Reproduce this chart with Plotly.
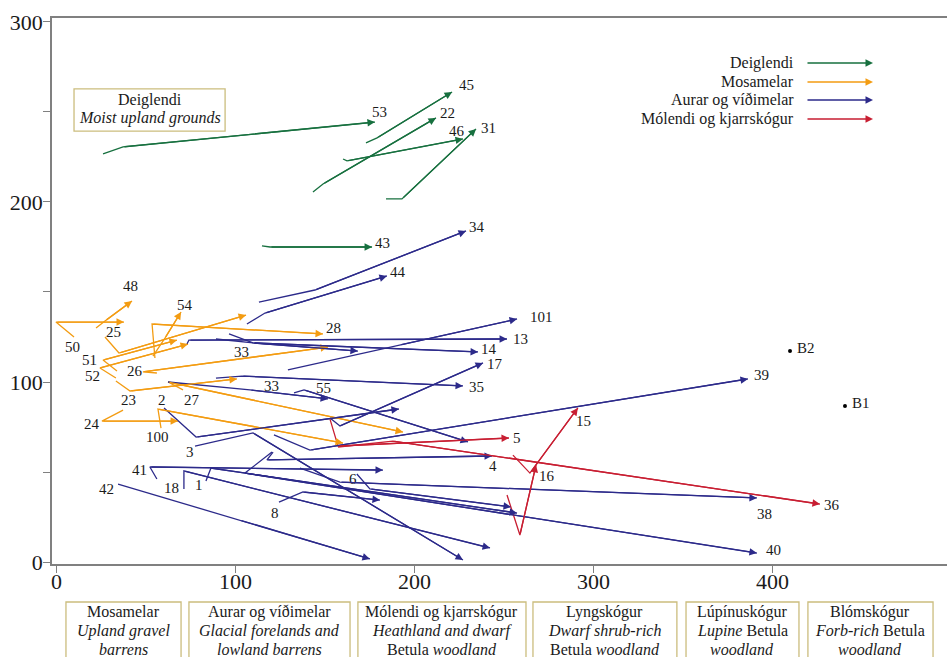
import plotly.graph_objects as go

# Site trajectories in ordination space (axis 1 = x, axis 2 = y), grouped by habitat.
# Each path runs first survey -> second survey -> third survey (arrow at the last point).

deig_ids = ["53", "45", "22", "46", "31", "43"]
deig_x = [[26.0, 37.2, 177.9], [172.9, 179.1, 221.0], [143.3, 148.9, 212.0],
          [160.1, 162.3, 227.1], [184.1, 193.0, 234.4], [114.8, 119.3, 176.3]]
deig_y = [[226.7, 230.6, 244.4], [232.8, 235.6, 261.1], [205.6, 210.0, 246.7],
          [223.9, 222.8, 235.0], [201.7, 201.7, 240.6], [175.6, 175.0, 175.0]]
deig_lab = [(180.7, 250.0), (228.8, 265.0), (218.7, 249.4), (223.7, 239.4),
            (241.1, 241.1), (182.4, 177.2)]

mosa_ids = ["48", "54", "25", "50", "51", "52", "26", "28", "23", "24", "27", "100"]
mosa_x = [[22.1, 27.1, 42.2], [53.9, 60.6, 69.6], [27.1, 34.9, 105.9],
          [9.8, -0.3, 37.7], [33.8, 26.0, 67.3], [33.2, 24.3, 73.5],
          [56.1, 48.3, 151.7], [55.0, 53.4, 148.9], [33.2, 41.1, 100.8],
          [37.2, 25.4, 67.9], [70.7, 62.3, 193.6], [58.4, 56.7, 160.1]]
mosa_y = [[130.0, 133.9, 145.0], [114.4, 124.4, 138.9], [125.0, 116.1, 137.2],
          [125.0, 133.3, 133.3], [106.1, 112.2, 123.3], [102.2, 107.8, 121.1],
          [105.0, 105.6, 119.4], [113.3, 132.2, 126.7], [100.6, 95.0, 101.7],
          [84.4, 78.3, 78.3], [95.6, 100.0, 72.2], [74.4, 85.0, 66.1]]
mosa_lab = [(41.1, 153.3), (71.8, 142.8), (31.6, 127.8), (8.7, 119.4),
            (18.7, 112.2), (20.4, 103.3), (43.9, 106.1), (155.0, 130.0),
            (40.0, 90.0), (19.8, 76.7), (75.7, 90.0), (56.7, 69.4)]

aura_ids = ["34", "44", "13", "14", "33", "101", "17", "35", "55", "33", "39",
            "2", "3", "41", "42", "18", "1", "8", "6", "4", "38", "40"]
aura_x = [[113.1, 144.4, 228.8], [106.4, 116.5, 184.6], [72.9, 74.0, 251.7],
          [96.4, 109.8, 235.5], [89.1, 109.8, 168.4], [129.3, 191.9, 257.3],
          [152.8, 158.4, 238.3], [89.1, 103.6, 227.1], [132.7, 138.3, 229.9],
          [62.3, 108.1, 151.7], [121.5, 141.6, 386.3], [60.1, 78.0, 191.3],
          [77.4, 109.8, 227.1], [56.1, 52.2, 182.4], [34.4, 102.5, 175.1],
          [71.2, 71.2, 242.2], [83.5, 86.3, 257.3], [124.3, 137.7, 180.7],
          [167.8, 175.1, 253.9], [121.0, 117.6, 243.3], [136.0, 158.4, 391.3],
          [120.4, 105.3, 391.3]]
aura_y = [[144.4, 151.1, 183.9], [132.2, 138.3, 158.9], [121.1, 123.3, 123.9],
          [126.7, 121.7, 116.7], [123.9, 121.7, 117.2], [106.7, 120.6, 135.0],
          [80.0, 75.6, 110.6], [102.2, 103.3, 97.8], [93.9, 95.6, 66.7],
          [100.0, 95.6, 90.6], [70.6, 62.2, 101.7], [85.6, 69.4, 85.0],
          [64.4, 71.7, 1.1], [46.1, 52.8, 51.1], [43.3, 23.3, 1.7],
          [40.6, 50.6, 7.8], [45.0, 52.2, 27.2], [33.3, 38.9, 34.4],
          [48.9, 40.6, 30.6], [61.1, 56.7, 58.9], [52.2, 44.4, 35.6],
          [61.1, 49.4, 5.0]]
aura_lab = [(234.9, 186.1), (190.8, 161.1), (259.5, 123.9), (241.6, 118.3),
            (103.6, 116.7), (271.2, 136.1), (245.0, 110.0), (234.9, 97.2),
            (148.9, 96.7), (120.4, 97.8), (394.1, 103.9), (58.9, 90.0),
            (74.6, 61.1), (46.6, 51.1), (28.2, 40.6), (64.0, 41.1),
            (79.6, 42.8), (122.1, 27.2), (165.6, 46.1), (243.9, 53.3),
            (395.3, 26.7), (400.3, 6.7)]

mole_ids = ["5", "36", "15", "16"]
mole_x = [[152.8, 157.3, 252.8], [157.3, 188.0, 426.5], [255.0, 264.5, 291.3],
          [251.7, 258.9, 267.9]]
mole_y = [[79.4, 64.4, 68.9], [63.9, 67.2, 32.2], [59.4, 49.4, 85.6],
          [37.2, 15.0, 53.9]]
mole_lab = [(257.3, 68.9), (433.3, 31.7), (294.7, 78.3), (274.0, 47.8)]

ref_ids = ["B2", "B1"]
ref_x = [409.8, 440.5]
ref_y = [117.2, 86.7]

groups = [
    ("Deiglendi", "#17703f", deig_ids, deig_x, deig_y, deig_lab),
    ("Mosamelar", "#f39c12", mosa_ids, mosa_x, mosa_y, mosa_lab),
    ("Aurar og víðimelar", "#2c2a8a", aura_ids, aura_x, aura_y, aura_lab),
    ("Mólendi og kjarrskógur", "#c81e32", mole_ids, mole_x, mole_y, mole_lab),
]

habitat_names = ["Mosamelar", "Aurar og víðimelar", "Mólendi og kjarrskógur",
                 "Lyngskógur", "Lúpínuskógur", "Blómskógur"]
habitat_line2 = ["<i>Upland gravel</i>", "<i>Glacial forelands and</i>",
                 "<i>Heathland and dwarf</i>", "<i>Dwarf shrub-rich</i>",
                 "<i>Lupine</i> Betula", "<i>Forb-rich</i> Betula"]
habitat_line3 = ["<i>barrens</i>", "<i>lowland barrens</i>", "Betula <i>woodland</i>",
                 "Betula <i>woodland</i>", "<i>woodland</i>", "<i>woodland</i>"]
habitat_box_x = [(5.3, 69.6), (74.0, 164.0), (168.4, 262.3), (266.2, 346.6),
                 (351.7, 414.8), (419.8, 489.7)]

SERIF = "Liberation Serif"
INK = "#1a1a1a"
BOX = "#cbbd7e"

fig = go.Figure()
annotations = []
shapes = []

for name, color, ids, xs, ys, labs in groups:
    for sid, px, py, (lx, ly) in zip(ids, xs, ys, labs):
        fig.add_trace(go.Scatter(x=px, y=py, mode="lines",
                                 line=dict(color=color, width=1.3),
                                 hoverinfo="skip", showlegend=False))
        annotations.append(dict(x=px[-1], y=py[-1], ax=px[-2], ay=py[-2],
                                xref="x", yref="y", axref="x", ayref="y",
                                text="", showarrow=True, arrowhead=2,
                                arrowsize=1.15, arrowwidth=1.3, arrowcolor=color,
                                standoff=0, startstandoff=0))
        annotations.append(dict(x=lx, y=ly, xref="x", yref="y", text=sid,
                                showarrow=False, xanchor="center", yanchor="middle",
                                font=dict(family=SERIF, size=15, color=INK)))

# reference plots (dots with labels set off to the right)
fig.add_trace(go.Scatter(x=ref_x, y=ref_y, mode="markers",
                         marker=dict(color="black", size=4),
                         hoverinfo="skip", showlegend=False))
for rid, rx, ry in zip(ref_ids, ref_x, ref_y):
    annotations.append(dict(x=rx, y=ry, xref="x", yref="y", text=rid,
                            showarrow=False, xanchor="left", yanchor="middle",
                            xshift=5, yshift=3,
                            font=dict(family=SERIF, size=15, color=INK)))

# legend drawn with arrows
leg_y = [0.9176, 0.8828, 0.8498, 0.8150]
for (name, color, *_), yy in zip(groups, leg_y):
    annotations.append(dict(x=0.8313, y=yy, xref="paper", yref="paper", text=name,
                            showarrow=False, xanchor="right", yanchor="middle",
                            font=dict(family=SERIF, size=16, color=INK)))
    annotations.append(dict(x=0.9173, y=yy, xref="paper", yref="paper", text="",
                            showarrow=True, ax=-67, ay=0, arrowhead=2,
                            arrowsize=1.15, arrowwidth=1.3, arrowcolor=color,
                            standoff=0))

# "Deiglendi" caption box
shapes.append(dict(type="rect", xref="x", yref="y", x0=9.8, x1=94.2, y0=239.4,
                   y1=262.8, line=dict(color=BOX, width=1.3), fillcolor="white"))
annotations.append(dict(x=52.0, y=256.7, xref="x", yref="y", text="Deiglendi",
                        showarrow=False, font=dict(family=SERIF, size=16, color=INK)))
annotations.append(dict(x=52.0, y=246.4, xref="x", yref="y",
                        text="<i>Moist upland grounds</i>", showarrow=False,
                        font=dict(family=SERIF, size=16, color=INK)))

# habitat boxes below the x axis
for nm, l2, l3, (bx0, bx1) in zip(habitat_names, habitat_line2, habitat_line3, habitat_box_x):
    shapes.append(dict(type="rect", xref="x", yref="paper", x0=bx0, x1=bx1,
                       y0=-0.20, y1=-0.0696, line=dict(color=BOX, width=1.3)))
    cx = (bx0 + bx1) / 2
    for txt, yy in zip([nm, l2, l3], [-0.0879, -0.1227, -0.1575]):
        annotations.append(dict(x=cx, y=yy, xref="x", yref="paper", text=txt,
                                showarrow=False, yanchor="middle",
                                font=dict(family=SERIF, size=16, color=INK)))

axis_common = dict(showgrid=False, zeroline=False, showline=True,
                   linecolor="#808080", linewidth=1.6, ticks="outside",
                   tickcolor="#808080", tickwidth=1.3, ticklen=7,
                   tickfont=dict(family=SERIF, size=22, color=INK))

fig.update_layout(
    width=947, height=657,
    margin=dict(l=52, r=0, t=18, b=93),
    paper_bgcolor="white", plot_bgcolor="white",
    font=dict(family=SERIF, color=INK),
    xaxis=dict(range=[-2.5, 497.5], tickvals=[0, 100, 200, 300, 400], mirror=True,
               ticklabelstandoff=-10, **axis_common),
    yaxis=dict(range=[-1.1, 302.2], tickvals=[0, 100, 200, 300],
               minor=dict(tickvals=[50, 150, 250], ticks="outside", ticklen=7,
                          tickcolor="#808080", tickwidth=1.3),
               ticklabelstandoff=-4, **axis_common),
    annotations=annotations,
    shapes=shapes,
)

fig.write_html("out.html")
